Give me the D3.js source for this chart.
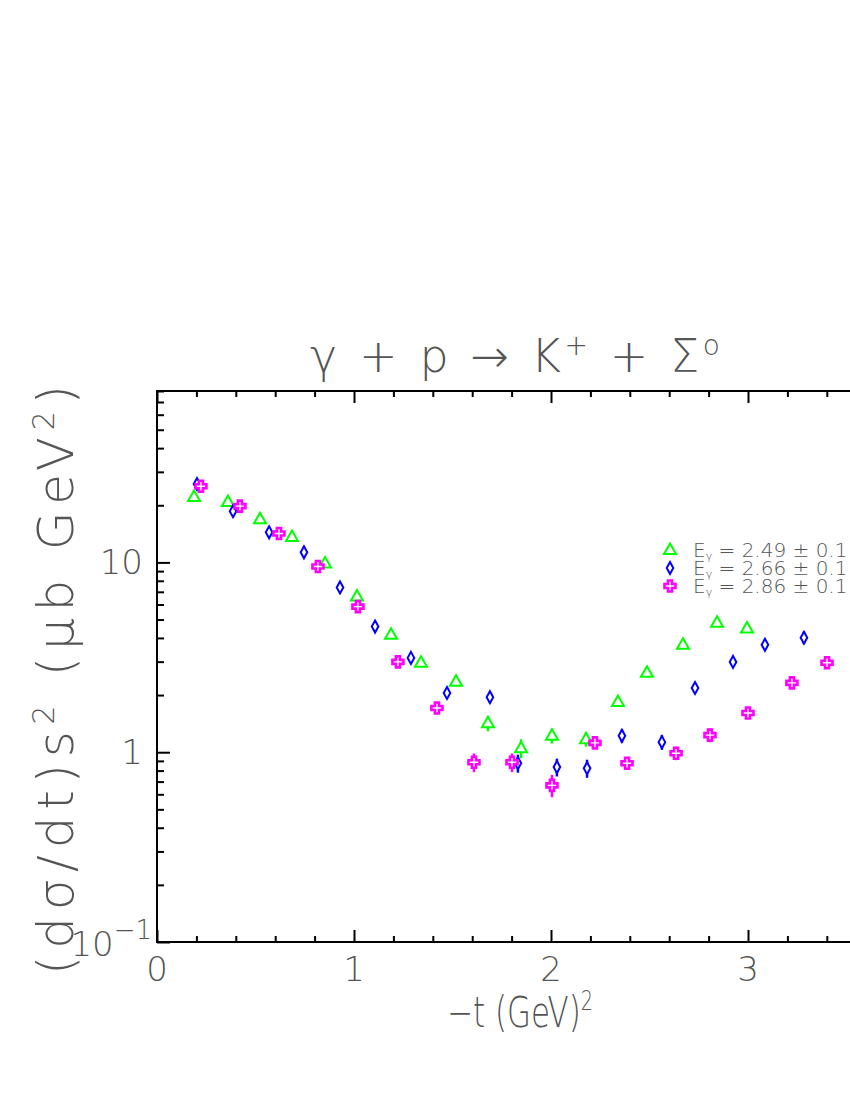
<!DOCTYPE html>
<html>
<head>
<meta charset="utf-8">
<script src="https://cdn.jsdelivr.net/npm/d3@7"></script>
<style>
  html, body { margin: 0; padding: 0; background: #fff; }
  svg { display: block; }
  text { font-family: "DejaVu Sans", "Liberation Sans", sans-serif; fill: #555; }
</style>
</head>
<body>
<script>
// ---------------- data ----------------
const seriesLabels = ["2.49", "2.66", "2.86"];
const seriesColors = ["#00ff00", "#0000ff", "#ff00ff"];

// E = 2.49 GeV (green triangles)
const tGreen = [0.188, 0.360, 0.523, 0.685, 0.853, 1.015, 1.188, 1.340, 1.518, 1.680, 1.848, 2.005, 2.178, 2.340, 2.487, 2.670, 2.843, 2.995];
const vGreen = [22.1, 20.8, 16.9, 13.6, 9.88, 6.61, 4.16, 2.96, 2.35, 1.42, 1.05, 1.22, 1.17, 1.84, 2.62, 3.68, 4.81, 4.48];
const eGreen = [0.8, 0.7, 0.6, 0.5, 0.35, 0.25, 0.17, 0.13, 0.11, 0.13, 0.12, 0.11, 0.10, 0.09, 0.12, 0.16, 0.22, 0.22];

// E = 2.66 GeV (blue diamonds)
const tBlue = [0.203, 0.386, 0.569, 0.746, 0.929, 1.107, 1.289, 1.472, 1.690, 1.832, 2.030, 2.183, 2.360, 2.563, 2.731, 2.924, 3.086, 3.284];
const vBlue = [25.9, 18.6, 14.4, 11.3, 7.38, 4.59, 3.14, 2.05, 1.95, 0.875, 0.835, 0.823, 1.22, 1.13, 2.18, 2.99, 3.68, 4.01];
const eBlue = [1.2, 0.8, 0.6, 0.5, 0.33, 0.22, 0.16, 0.12, 0.12, 0.095, 0.09, 0.09, 0.10, 0.10, 0.13, 0.18, 0.2, 0.3];

// E = 2.86 GeV (magenta crosses)
const tMag = [0.223, 0.421, 0.619, 0.817, 1.020, 1.223, 1.421, 1.609, 1.802, 2.005, 2.223, 2.386, 2.635, 2.807, 3.000, 3.223, 3.401];
const vMag = [25.2, 19.8, 14.2, 9.52, 5.85, 2.99, 1.71, 0.885, 0.885, 0.669, 1.12, 0.875, 0.988, 1.23, 1.61, 2.32, 2.96];
const eMag = [1.0, 0.8, 0.6, 0.4, 0.25, 0.14, 0.13, 0.10, 0.10, 0.09, 0.08, 0.05, 0.08, 0.10, 0.10, 0.14, 0.18];

const xMajorTicks = [0, 1, 2, 3, 4];
const xTickLabels = ["0", "1", "2", "3", "4"];
const yMajorTicks = [0.1, 1, 10];

// ---------------- layout ----------------
const W = 850, H = 1100;
const svg = d3.select("body").append("svg").attr("width", W).attr("height", H);

const x = d3.scaleLinear().domain([0, 4]).range([157, 945]);
const y = d3.scaleLog().domain([0.1, 80]).range([942, 391]);

const xMinor = d3.range(0, 4.0001, 0.2).map(v => +v.toFixed(2)).filter(v => !xMajorTicks.includes(v));
const yMinor = [];
[0.1, 1, 10].forEach(d => { for (let k = 2; k <= 9; k++) { const v = +(d * k).toPrecision(3); if (v <= 80) yMinor.push(v); } });

// frame
svg.append("rect")
  .attr("x", x(0)).attr("y", y(80))
  .attr("width", x(4) - x(0)).attr("height", y(0.1) - y(80))
  .attr("fill", "none").attr("stroke", "#000").attr("stroke-width", 2);

function styleAxis(g) {
  g.select(".domain").remove();
  g.selectAll(".tick line").attr("stroke", "#000").attr("stroke-width", 2);
  g.selectAll(".tick text").remove();
}

// bottom ticks
svg.append("g").attr("transform", `translate(0,${y(0.1)})`)
  .call(d3.axisBottom(x).tickValues(xMajorTicks).tickSize(-12).tickFormat("")).call(styleAxis);
svg.append("g").attr("transform", `translate(0,${y(0.1)})`)
  .call(d3.axisBottom(x).tickValues(xMinor).tickSize(-6).tickFormat("")).call(styleAxis);
// top ticks
svg.append("g").attr("transform", `translate(0,${y(80)})`)
  .call(d3.axisTop(x).tickValues(xMajorTicks).tickSize(-12).tickFormat("")).call(styleAxis);
svg.append("g").attr("transform", `translate(0,${y(80)})`)
  .call(d3.axisTop(x).tickValues(xMinor).tickSize(-6).tickFormat("")).call(styleAxis);
// left ticks
svg.append("g").attr("transform", `translate(${x(0)},0)`)
  .call(d3.axisLeft(y).tickValues(yMajorTicks).tickSize(-13).tickFormat("")).call(styleAxis);
svg.append("g").attr("transform", `translate(${x(0)},0)`)
  .call(d3.axisLeft(y).tickValues(yMinor).tickSize(-7).tickFormat("")).call(styleAxis);
// right ticks
svg.append("g").attr("transform", `translate(${x(4)},0)`)
  .call(d3.axisRight(y).tickValues(yMajorTicks).tickSize(-13).tickFormat("")).call(styleAxis);
svg.append("g").attr("transform", `translate(${x(4)},0)`)
  .call(d3.axisRight(y).tickValues(yMinor).tickSize(-7).tickFormat("")).call(styleAxis);

// x tick labels
svg.append("g").selectAll("text").data(xMajorTicks.slice(0, 4)).join("text")
  .attr("x", d => x(d)).attr("y", 981)
  .attr("text-anchor", "middle").attr("font-size", 34).attr("font-weight", 200)
  .text((d, i) => xTickLabels[i]);

// y tick labels
svg.append("text").attr("x", 143).attr("y", y(10) + 12).attr("text-anchor", "end")
  .attr("font-size", 34).attr("font-weight", 200).text("10");
svg.append("text").attr("x", 143).attr("y", y(1) + 12).attr("text-anchor", "end")
  .attr("font-size", 34).attr("font-weight", 200).text("1");
const ym1 = svg.append("text").attr("x", 152).attr("y", y(0.1) + 14).attr("text-anchor", "end")
  .attr("font-size", 34).attr("font-weight", 200);
ym1.append("tspan").text("10");
ym1.append("tspan").attr("dy", -17).attr("font-size", 26).text("\u22121");

// title
const title = svg.append("text").attr("x", 515).attr("y", 372).attr("text-anchor", "middle")
  .attr("font-size", 46).attr("font-weight", 200)
  .attr("textLength", 410).attr("lengthAdjust", "spacing");
title.append("tspan").text("\u03b3 + p \u2192 K");
title.append("tspan").attr("dy", -17).attr("font-size", 28).text("+");
title.append("tspan").attr("dy", 17).text(" + \u03a3");
title.append("tspan").attr("dy", -17).attr("font-size", 28).text("o");

// y axis title
const yt = svg.append("text").attr("transform", "translate(73,680) rotate(-90)")
  .attr("text-anchor", "middle").attr("font-size", 50).attr("font-weight", 200)
  .attr("textLength", 590).attr("lengthAdjust", "spacing");
yt.append("tspan").text("(d\u03c3/dt)s");
yt.append("tspan").attr("dy", -19).attr("font-size", 30).text("2");
yt.append("tspan").attr("dy", 19).text(" (\u03bcb GeV");
yt.append("tspan").attr("dy", -19).attr("font-size", 30).text("2");
yt.append("tspan").attr("dy", 19).text(")");

// x axis title
const xt = svg.append("text").attr("x", 520).attr("y", 1027).attr("text-anchor", "middle")
  .attr("font-size", 42).attr("font-weight", 200)
  .attr("textLength", 146).attr("lengthAdjust", "spacingAndGlyphs");
xt.append("tspan").text("\u2212t (GeV)");
xt.append("tspan").attr("dy", -17).attr("font-size", 26).text("2");

// ---------------- markers ----------------
const triPath = "M0,-6.5L6,4L-6,4Z";
const diaPath = "M0,-6L3.3,0L0,6L-3.3,0Z";
const crossPath = "M-2,-5.5L2,-5.5L2,-2L5.5,-2L5.5,2L2,2L2,5.5L-2,5.5L-2,2L-5.5,2L-5.5,-2L-2,-2Z";
const shapes = [triPath, diaPath, crossPath];
const shapeStroke = [2, 2, 2.6];

const series = [
  { t: tGreen, v: vGreen, e: eGreen },
  { t: tBlue, v: vBlue, e: eBlue },
  { t: tMag, v: vMag, e: eMag }
];

const plot = svg.append("g");
series.forEach((s, si) => {
  const pts = s.t.map((t, i) => ({ t, v: s.v[i], e: s.e[i] }));
  const g = plot.append("g");
  g.selectAll("line").data(pts).join("line")
    .attr("x1", d => x(d.t)).attr("x2", d => x(d.t))
    .attr("y1", d => y(d.v + d.e)).attr("y2", d => y(Math.max(d.v - d.e, 0.1)))
    .attr("stroke", seriesColors[si]).attr("stroke-width", 2.5);
  g.selectAll("path").data(pts).join("path")
    .attr("d", shapes[si])
    .attr("transform", d => `translate(${x(d.t)},${y(d.v)})`)
    .attr("fill", "#fff").attr("stroke", seriesColors[si]).attr("stroke-width", shapeStroke[si])
    .attr("stroke-linejoin", "miter");
});

// ---------------- legend ----------------
const legY = [550, 568, 586];
const leg = svg.append("g");
seriesLabels.forEach((lab, i) => {
  leg.append("path").attr("d", shapes[i]).attr("transform", `translate(670,${legY[i]})`)
    .attr("fill", "#fff").attr("stroke", seriesColors[i]).attr("stroke-width", shapeStroke[i]);
  const tx = leg.append("text").attr("x", 693).attr("y", legY[i] + 7)
    .attr("font-size", 20).attr("font-weight", 200);
  tx.append("tspan").text("E");
  tx.append("tspan").attr("dy", 3).attr("font-size", 11).text("\u03b3");
  tx.append("tspan").attr("dy", -3).text(" = " + lab + " \u00b1 0.1");
});
</script>
</body>
</html>
